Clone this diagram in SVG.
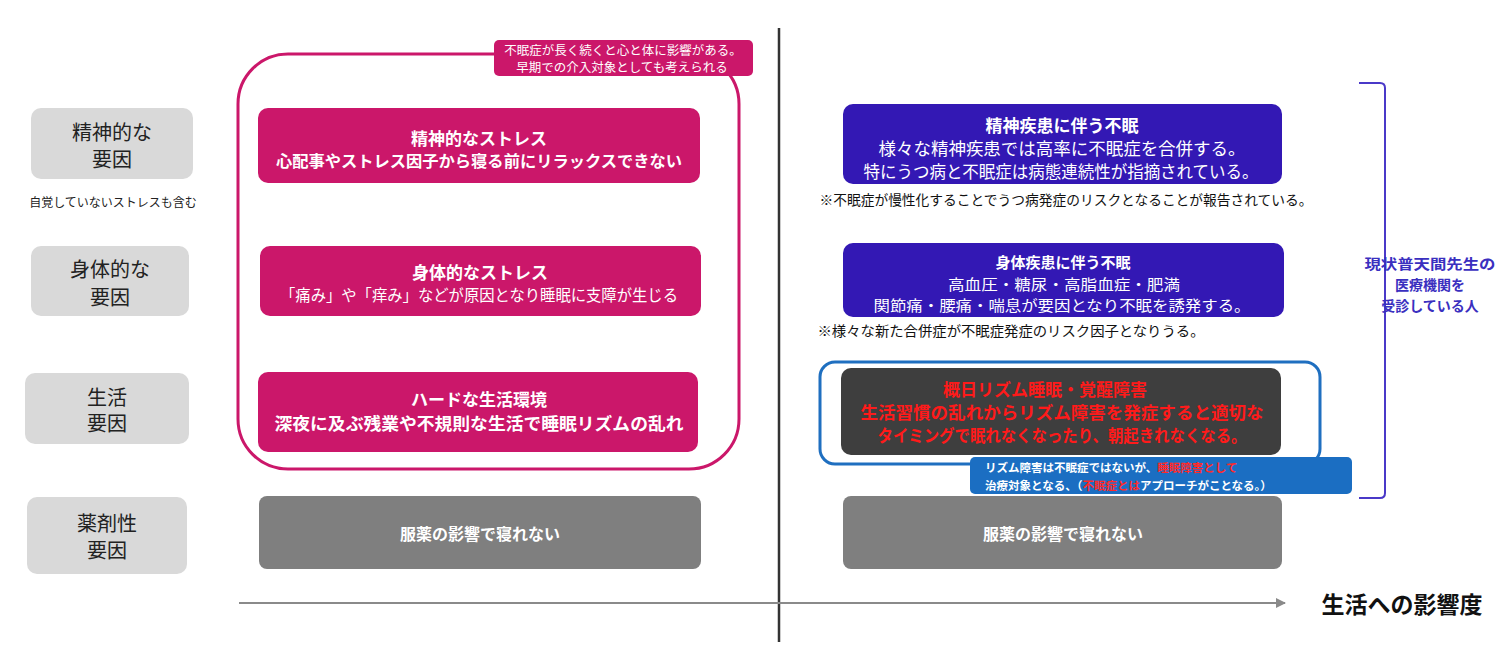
<svg xmlns="http://www.w3.org/2000/svg" width="1506" height="647" viewBox="0 0 1506 647">
<defs>
<style>
text{font-family:"Noto Sans CJK JP","Noto Sans",sans-serif;dominant-baseline:central;text-anchor:middle}
.mag{fill:#cb176a}
.blue{fill:#3318b4}
.lbl{fill:#d9d9d9}
.lt{font-size:20px;fill:#222}
.w{fill:#fff}
.b{font-weight:bold}
.red{fill:#ff1a1a;font-weight:bold;font-size:17px}
.note{font-size:14px;fill:#111}
.cl{font-size:11.5px;font-weight:bold;fill:#fff;text-anchor:start}
.rd{fill:#ff2a2a}
.br{font-size:14px;font-weight:bold;fill:#3a2fbf}
</style>
<marker id="ah" viewBox="0 0 10 10" refX="9" refY="5" markerWidth="5" markerHeight="5" orient="auto"><path d="M0,0 L10,5 L0,10 z" fill="#8a8a8a"/></marker>
</defs>
<rect width="1506" height="647" fill="#fff"/>

<g id="connectors">
<line x1="779" y1="28" x2="779" y2="642" stroke="#333" stroke-width="2.5"/>
<line x1="239" y1="603" x2="1285" y2="603" stroke="#8a8a8a" stroke-width="2" marker-end="url(#ah)"/>
<path d="M1359,83 H1380 Q1385,83 1385,88 V493 Q1385,498 1380,498 H1359" fill="none" stroke="#4a39c8" stroke-width="2"/>
</g>

<g id="group-mental-outline">
<rect x="238" y="54" width="501" height="415" rx="50" fill="none" stroke="#cb176a" stroke-width="3"/>
</g>

<g id="callout-top">
<rect x="494" y="40" width="259" height="36" rx="5" class="mag"/>
<text x="623" y="49" class="w" font-size="12.5">不眠症が長く続くと心と体に影響がある。</text>
<text x="622" y="66" class="w" font-size="12.5">早期での介入対象としても考えられる</text>
</g>

<g id="label-mental">
<rect x="31" y="108" width="162" height="71" rx="10" class="lbl"/>
<text x="112" y="131" class="lt">精神的な</text>
<text x="112" y="158" class="lt">要因</text>
<text x="113" y="201" font-size="12" fill="#222">自覚していないストレスも含む</text>
</g>
<g id="label-physical">
<rect x="31" y="246" width="158" height="70" rx="10" class="lbl"/>
<text x="110" y="268" class="lt">身体的な</text>
<text x="110" y="296" class="lt">要因</text>
</g>
<g id="label-life">
<rect x="25" y="373" width="164" height="71" rx="10" class="lbl"/>
<text x="107" y="396" class="lt">生活</text>
<text x="107" y="422" class="lt">要因</text>
</g>
<g id="label-drug">
<rect x="27" y="497" width="160" height="77" rx="10" class="lbl"/>
<text x="107" y="522" class="lt">薬剤性</text>
<text x="107" y="549" class="lt">要因</text>
</g>

<g id="mental-stress">
<rect x="258" y="108" width="442" height="75" rx="10" class="mag"/>
<text x="479" y="137" class="w b" font-size="17">精神的なストレス</text>
<text x="479" y="160" class="w b" font-size="16" textLength="406" lengthAdjust="spacingAndGlyphs">心配事やストレス因子から寝る前にリラックスできない</text>
</g>
<g id="physical-stress">
<rect x="260" y="246" width="441" height="70" rx="10" class="mag"/>
<text x="480" y="271" class="w b" font-size="17">身体的なストレス</text>
<text x="479" y="294" class="w" font-size="16" textLength="398" lengthAdjust="spacingAndGlyphs">「痛み」や「痒み」などが原因となり睡眠に支障が生じる</text>
</g>
<g id="hard-life">
<rect x="258" y="372" width="440" height="80" rx="10" class="mag"/>
<text x="479" y="398" class="w b" font-size="17">ハードな生活環境</text>
<text x="479" y="422" class="w b" font-size="17" textLength="409" lengthAdjust="spacingAndGlyphs">深夜に及ぶ残業や不規則な生活で睡眠リズムの乱れ</text>
</g>
<g id="drug-left">
<rect x="259" y="496" width="442" height="73" rx="8" fill="#7f7f7f"/>
<text x="480" y="533" class="w b" font-size="16">服薬の影響で寝れない</text>
</g>

<g id="psychiatric">
<rect x="843" y="104" width="439" height="80" rx="10" class="blue"/>
<text x="1062" y="124" class="w b" font-size="17">精神疾患に伴う不眠</text>
<text x="1062" y="147" class="w" font-size="17" textLength="367" lengthAdjust="spacingAndGlyphs">様々な精神疾患では高率に不眠症を合併する。</text>
<text x="1061" y="170" class="w" font-size="17" textLength="395" lengthAdjust="spacingAndGlyphs">特にうつ病と不眠症は病態連続性が指摘されている。</text>
<text x="1066" y="199" class="note" textLength="493" lengthAdjust="spacingAndGlyphs">※不眠症が慢性化することでうつ病発症のリスクとなることが報告されている。</text>
</g>
<g id="physical-disease">
<rect x="843" y="243" width="441" height="74" rx="10" class="blue"/>
<text x="1063" y="261" class="w b" font-size="15">身体疾患に伴う不眠</text>
<text x="1064" y="283" class="w" font-size="14.5" textLength="232" lengthAdjust="spacingAndGlyphs">高血圧・糖尿・高脂血症・肥満</text>
<text x="1062" y="304" class="w" font-size="14.5" textLength="377" lengthAdjust="spacingAndGlyphs">関節痛・腰痛・喘息が要因となり不眠を誘発する。</text>
<text x="1011" y="330" class="note" textLength="387" lengthAdjust="spacingAndGlyphs">※様々な新た合併症が不眠症発症のリスク因子となりうる。</text>
</g>
<g id="circadian">
<rect x="820" y="362" width="500" height="102" rx="15" fill="none" stroke="#1f6fc0" stroke-width="3"/>
<rect x="841" y="368" width="440" height="87" rx="10" fill="#3e3e3e"/>
<text x="1045" y="388" class="red" font-size="16">概日リズム睡眠・覚醒障害</text>
<text x="1062" y="411" class="red" textLength="403" lengthAdjust="spacingAndGlyphs">生活習慣の乱れからリズム障害を発症すると適切な</text>
<text x="1062" y="434" class="red" textLength="369" lengthAdjust="spacingAndGlyphs">タイミングで眠れなくなったり、朝起きれなくなる。</text>
</g>
<g id="callout-rhythm">
<rect x="970" y="457" width="382" height="37" rx="5" fill="#1b6ec2"/>
<text x="985" y="467" class="cl">リズム障害は不眠症ではないが、<tspan class="rd">睡眠障害として</tspan></text>
<text x="985" y="485" class="cl" font-size="12">治療対象となる、（<tspan class="rd">不眠症とは</tspan>アプローチがことなる。）</text>
</g>
<g id="drug-right">
<rect x="843" y="496" width="439" height="73" rx="8" fill="#7f7f7f"/>
<text x="1063" y="533" class="w b" font-size="16">服薬の影響で寝れない</text>
</g>

<g id="bracket-label">
<text x="1430" y="263" class="br" textLength="131" lengthAdjust="spacingAndGlyphs">現状普天間先生の</text>
<text x="1430" y="284" class="br" font-size="14.5">医療機関を</text>
<text x="1430" y="305" class="br" font-size="14.5">受診している人</text>
</g>
<g id="axis-label">
<text x="1402" y="603" font-size="23" font-weight="bold" fill="#111">生活への影響度</text>
</g>
</svg>
